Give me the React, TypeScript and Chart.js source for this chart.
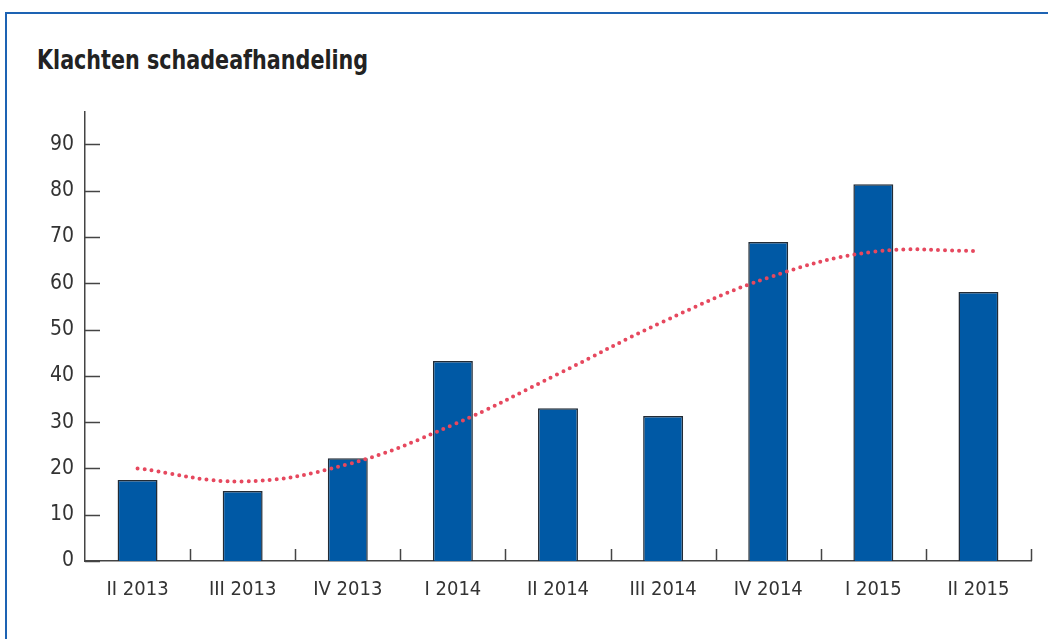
import React, { useEffect, useRef } from "react";
import { Chart, registerables } from "chart.js";

Chart.register(...registerables);

const categories = ["II 2013", "III 2013", "IV 2013", "I 2014", "II 2014", "III 2014", "IV 2014", "I 2015", "II 2015"];
const complaints = [17.5, 15.1, 22.2, 43.2, 33.0, 31.3, 68.9, 81.4, 58.1];
const trend = [20.0, 17.2, 20.9, 29.4, 40.4, 51.7, 61.2, 66.8, 67.0];
const yTickValues = [0, 10, 20, 30, 40, 50, 60, 70, 80, 90];
const titleText = "Klachten schadeafhandeling";

const NARROW = '"Liberation Sans Narrow", "DejaVu Sans Condensed", "Roboto", sans-serif';

const innerTicks = {
  id: "innerTicks",
  afterDraw(chart: any) {
    const ctx = chart.ctx;
    const x = chart.scales.x;
    const y = chart.scales.y;
    const area = chart.chartArea;
    ctx.save();
    ctx.strokeStyle = "#444";
    ctx.lineWidth = 1.5;
    ctx.beginPath();
    y.ticks.forEach((t: any) => {
      const py = Math.round(y.getPixelForValue(t.value)) + 0.5;
      ctx.moveTo(area.left, py);
      ctx.lineTo(area.left + 15, py);
    });
    const n = categories.length;
    for (let i = 0; i < n; i++) {
      const px = i < n - 1 ? (x.getPixelForValue(i) + x.getPixelForValue(i + 1)) / 2 : area.right;
      const rx = Math.round(px) + 0.5;
      ctx.moveTo(rx, area.bottom);
      ctx.lineTo(rx, area.bottom - 12);
    }
    ctx.stroke();
    ctx.restore();
  },
};

export default function App() {
  const ref = useRef<HTMLCanvasElement>(null);
  useEffect(() => {
    if (!ref.current) return;
    const chart = new Chart(ref.current, {
      type: "bar",
      data: {
        labels: categories,
        datasets: [
          {
            type: "line",
            data: trend,
            borderColor: "#e6485e",
            borderWidth: 4,
            borderDash: [0, 7],
            borderCapStyle: "round",
            tension: 0.4,
            pointRadius: 0,
            fill: false,
            order: 0,
          } as any,
          {
            type: "bar",
            data: complaints,
            backgroundColor: "#0059a5",
            borderColor: "#222b35",
            borderWidth: 1.5,
            categoryPercentage: 1,
            barPercentage: 0.38,
            order: 1,
          },
        ],
      },
      options: {
        animation: false,
        responsive: false,
        maintainAspectRatio: false,
        layout: { padding: { left: 0, right: 17, top: 112, bottom: 0 } },
        plugins: { legend: { display: false }, title: { display: false }, tooltip: { enabled: false } },
        scales: {
          x: {
            offset: true,
            grid: { display: false, drawTicks: false, tickLength: 0 },
            border: { display: true, color: "#444", width: 1.5 },
            ticks: { color: "#333", font: { family: NARROW, size: 20 }, padding: 17, maxRotation: 0 },
            afterFit: (s: any) => { s.height = 78; },
          },
          y: {
            min: 0,
            max: 97,
            grid: { display: false, drawTicks: false, tickLength: 0 },
            border: { display: true, color: "#444", width: 1.5 },
            ticks: { stepSize: 10, color: "#333", font: { family: NARROW, size: 21 }, padding: 11 },
            afterBuildTicks: (s: any) => {
              s.ticks = yTickValues.map((v) => ({ value: v }));
            },
            afterFit: (s: any) => { s.width = 85; },
          },
        },
      },
      plugins: [innerTicks],
    });
    return () => chart.destroy();
  }, []);

  return (
    <div style={{ position: "fixed", left: 0, top: 0, width: 1048, height: 639, background: "#fff", overflow: "hidden" }}>
      <div style={{ position: "absolute", left: 6, top: 12, right: 0, height: 2, background: "#1d63b3" }} />
      <div style={{ position: "absolute", left: 5, top: 12, bottom: 0, width: 2, background: "#1d63b3" }} />
      <div
        style={{
          position: "absolute",
          left: 37,
          top: 44,
          fontFamily: NARROW,
          fontWeight: "bold",
          fontSize: 26,
          letterSpacing: 0,
          color: "#222",
          lineHeight: "32px",
          whiteSpace: "nowrap",
          transform: "scaleX(0.885)",
          transformOrigin: "left center",
        }}
      >
        {titleText}
      </div>
      <canvas ref={ref} width={1048} height={639} style={{ position: "absolute", left: 0, top: 0, width: 1048, height: 639 }} />
    </div>
  );
}
